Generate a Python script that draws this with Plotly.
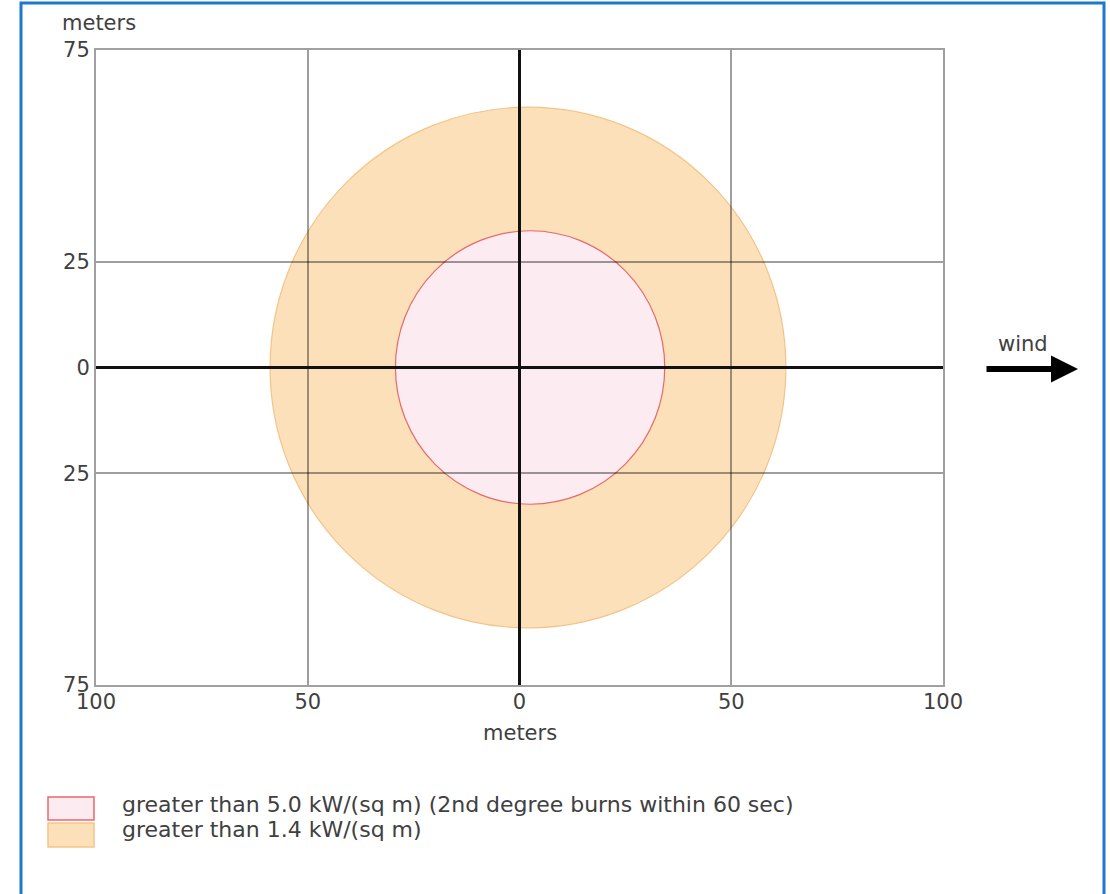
import plotly.graph_objects as go

# ---- data ----
zone_names = [
    "greater than 1.4 kW/(sq m)",
    "greater than 5.0 kW/(sq m) (2nd degree burns within 60 sec)",
]
zone_center_x = [2.0, 2.5]
zone_center_y = [0.0, 0.0]
zone_radius_x = [60.9, 31.8]
zone_radius_y = [61.5, 32.3]
zone_fill = ["#FCE0B9", "#FCEBF0"]
zone_line = ["#F3C488", "#E66A6A"]

x_tickvals = [-100, -50, 0, 50, 100]
x_ticktext = ["100", "50", "0", "50", "100"]
y_tickvals = [-75, -25, 0, 25, 75]
y_ticktext = ["75", "25", "0", "25", "75"]

# ---- layout geometry (page pixels; body margin removed by post_script) ----
W, H = 1110, 894
L, R, T, B = 96, 943, 50, 685   # plot area in pixels


def px(xp):
    return (xp - L) / (R - L)


def py(yp):
    return (B - yp) / (B - T)


FONT = "DejaVu Sans"
TXT = "#404040"
FS = 21
FS_LEG = 22

fig = go.Figure()
fig.add_trace(go.Scatter(x=zone_center_x, y=zone_center_y, mode="markers",
                         marker=dict(opacity=0), hoverinfo="skip", showlegend=False))

shapes = []
for cx, cy, rx, ry, fc, lc in zip(zone_center_x, zone_center_y, zone_radius_x,
                                  zone_radius_y, zone_fill, zone_line):
    shapes.append(dict(type="circle", xref="x", yref="y",
                       x0=cx - rx, x1=cx + rx, y0=cy - ry, y1=cy + ry,
                       fillcolor=fc, line=dict(color=lc, width=1.2), layer="below"))

# outer blue frame
shapes.append(dict(type="rect", xref="paper", yref="paper",
                   x0=px(21), x1=px(1104), y0=py(910), y1=py(3),
                   line=dict(color="#1B78CC", width=3), fillcolor="rgba(0,0,0,0)"))

# legend swatches (pink first, then orange)
legend_order = [1, 0]
swatch_y = [(797, 820), (823, 847)]
text_y = [804, 829]
annotations = []
for (y0, y1), ty, idx in zip(swatch_y, text_y, legend_order):
    shapes.append(dict(type="rect", xref="paper", yref="paper",
                       x0=px(48), x1=px(94), y0=py(y1), y1=py(y0),
                       fillcolor=zone_fill[idx],
                       line=dict(color=zone_line[idx], width=1.5)))
    annotations.append(dict(x=px(120), y=py(ty), xref="paper", yref="paper",
                            text=zone_names[idx], showarrow=False,
                            xanchor="left", yanchor="middle",
                            font=dict(family=FONT, size=FS_LEG, color=TXT)))

# axis titles
annotations.append(dict(x=px(60), y=py(23), xref="paper", yref="paper", text="meters",
                        showarrow=False, xanchor="left", yanchor="middle",
                        font=dict(family=FONT, size=FS, color=TXT)))
annotations.append(dict(x=0.5, y=py(733), xref="paper", yref="paper", text="meters",
                        showarrow=False, xanchor="center", yanchor="middle",
                        font=dict(family=FONT, size=FS, color=TXT)))

# wind arrow
annotations.append(dict(x=px(1078), y=py(369), xref="paper", yref="paper",
                        ax=-93, ay=0, text="", showarrow=True,
                        arrowhead=2, arrowsize=0.9, arrowwidth=6, arrowcolor="#000"))
annotations.append(dict(x=px(1023), y=py(344), xref="paper", yref="paper", text="wind",
                        showarrow=False, xanchor="center", yanchor="middle",
                        font=dict(family=FONT, size=FS, color=TXT)))

axis_common = dict(showgrid=True, gridcolor="rgba(0,0,0,0.38)", gridwidth=2,
                   zeroline=True, zerolinecolor="#111111", zerolinewidth=3,
                   showline=True, mirror=True, linecolor="#A0A0A0", linewidth=2,
                   ticks="", tickfont=dict(family=FONT, size=FS, color=TXT),
                   fixedrange=True)

fig.update_layout(
    width=W, height=H, autosize=False,
    margin=dict(l=L, r=W - R, t=T, b=H - B, pad=0),
    paper_bgcolor="white", plot_bgcolor="white",
    xaxis=dict(range=[-100, 100], tickmode="array", tickvals=x_tickvals,
               ticktext=x_ticktext, ticklabelstandoff=-3, **axis_common),
    yaxis=dict(range=[-75, 75], tickmode="array", tickvals=y_tickvals,
               ticktext=y_ticktext, **axis_common),
    shapes=shapes, annotations=annotations, showlegend=False,
)

fig.write_html(
    "out.html",
    config={"displayModeBar": False, "staticPlot": True},
    post_script="document.body.style.margin='0';document.body.style.overflow='hidden';",
)
